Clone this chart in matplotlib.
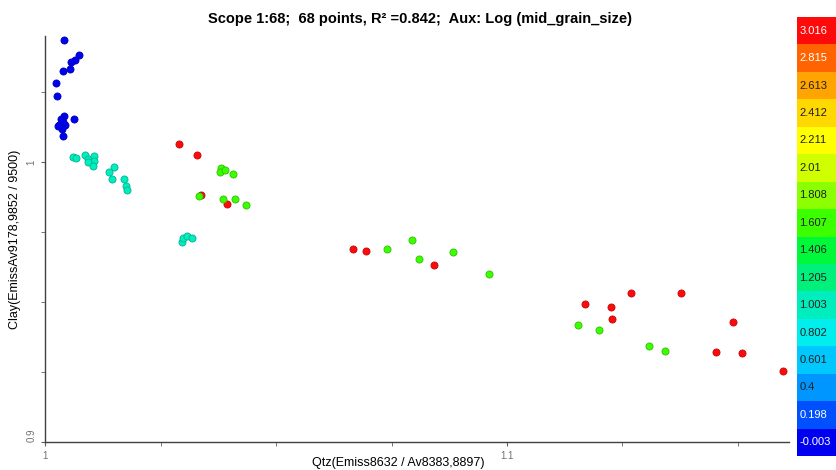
import numpy as np
import matplotlib
matplotlib.use('Agg')
import matplotlib.pyplot as plt
from matplotlib.colors import ListedColormap, BoundaryNorm, to_rgb

plt.rcParams['font.family'] = ['Liberation Sans', 'DejaVu Sans']

# colour legend (aux = log mid_grain_size), top to bottom
legend_labels = ['3.016', '2.815', '2.613', '2.412', '2.211', '2.01', '1.808', '1.607',
                 '1.406', '1.205', '1.003', '0.802', '0.601', '0.4', '0.198', '-0.003']
legend_colors = ['#FF0A0A', '#FF6400', '#FFA400', '#FFD800', '#FFFF00', '#D0FF00', '#8CFF00', '#3CFF00',
                 '#00F83A', '#00F07C', '#00EEBE', '#00EEEE', '#00C8FF', '#0096FF', '#0050FF', '#0000F0']
legend_text = ['white', 'white'] + ['#202020'] * 12 + ['white', 'white']

# point groups: x (Qtz), y (Clay), aux value
blue_x = [1.00409, 1.00734, 1.00635, 1.00548, 1.00375, 1.00533, 1.00236, 1.00251, 1.00409,
          1.00626, 1.00344, 1.00301, 1.00431, 1.00360, 1.00375, 1.00273, 1.00381]
blue_y = [1.04357, 1.03832, 1.03664, 1.03593, 1.03250, 1.03321, 1.02821, 1.02379, 1.01654,
          1.01546, 1.01546, 1.01321, 1.01321, 1.01200, 1.00939, 1.01296, 1.01439]
blue_aux = 0.0

cyan_x = [1.00604, 1.00663, 1.00851, 1.00923, 1.01046, 1.01046, 1.00929, 1.01038, 1.01480,
          1.01371, 1.01436, 1.01696, 1.01740, 1.01774, 1.02953, 1.02974, 1.03061, 1.03169]
cyan_y = [1.00179, 1.00154, 1.00250, 1.00107, 1.00225, 1.00046, 1.00000, 0.99868, 0.99843,
          0.99643, 0.99414, 0.99393, 0.99143, 0.99021, 0.97154, 0.97307, 0.97368, 0.97307]
cyan_aux = 1.0

red_x = [1.02894, 1.03291, 1.03377, 1.03934, 1.06670, 1.06952, 1.08412, 1.11696,
         1.12253, 1.12693, 1.13770, 1.12281, 1.14896, 1.14534, 1.15097, 1.15973]
red_y = [1.00654, 1.00250, 0.98821, 0.98521, 0.96904, 0.96821, 0.96332, 0.94929,
         0.94843, 0.95332, 0.95332, 0.94414, 0.94286, 0.93225, 0.93179, 0.92546]
red_aux = 3.0

green_x = [1.03811, 1.03783, 1.03897, 1.04058, 1.03334, 1.03854, 1.04114, 1.04346, 1.07407,
           1.07942, 1.08094, 1.08837, 1.09604, 1.11545, 1.11993, 1.13076, 1.13430]
green_y = [0.99807, 0.99664, 0.99714, 0.99593, 0.98786, 0.98700, 0.98700, 0.98475, 0.96904,
           0.97214, 0.96546, 0.96796, 0.96000, 0.94189, 0.94000, 0.93429, 0.93250]
green_aux = 1.6

cmap = ListedColormap(legend_colors[::-1])
vals = [float(v) for v in legend_labels[::-1]]
step = vals[1] - vals[0]
bounds = [vals[0] - step / 2] + [v + step / 2 for v in vals]
norm = BoundaryNorm(bounds, cmap.N)

fig = plt.figure(figsize=(8.37, 4.70), dpi=100)
W, H = 837.0, 470.0
ax = fig.add_axes([45.4 / W, (H - 442.3) / H, (789 - 45.4) / W, (442.3 - 36) / H])

for gx, gy, ga in [(blue_x, blue_y, blue_aux), (cyan_x, cyan_y, cyan_aux),
                   (red_x, red_y, red_aux), (green_x, green_y, green_aux)]:
    c = cmap(norm(ga))
    edge = tuple(np.array(to_rgb(c)) * 0.75)
    ax.scatter(gx, gy, s=26, color=c, edgecolors=[edge], linewidths=0.6, zorder=3)

ax.set_xlim(1.0, 1.0 + (789 - 45.4) / 4616)
ax.set_ylim(0.9, 1.0 + (162.3 - 36) / 2800)
ax.set_xticks([1.0, 1.1])
ax.set_xticklabels(['1', '1.1'])
ax.set_xticks(np.arange(1.0, 1.16, 0.025), minor=True)
ax.set_yticks([0.9, 1.0])
ax.set_yticklabels(['0.9', '1'])
ax.set_yticks(np.arange(0.9, 1.045, 0.025), minor=True)
for s in ['top', 'right']:
    ax.spines[s].set_visible(False)
for s in ['left', 'bottom']:
    ax.spines[s].set_color('#404040')
    ax.spines[s].set_linewidth(1.0)
ax.tick_params(which='both', length=3, color='#606060', labelsize=7, labelcolor='#707070')
for lab in ax.get_yticklabels():
    lab.set_rotation(90)
ax.get_yticklabels()[0].set_va('bottom')
ax.get_yticklabels()[1].set_va('center')

fig.text(15 / W, 1 - 239.5 / H, 'Clay(EmissAv9178,9852 / 9500)', rotation=90,
         ha='center', va='center', fontsize=9)
fig.text(398 / W, 1 - 463 / H, 'Qtz(Emiss8632 / Av8383,8897)', ha='center', va='center', fontsize=9)
fig.text(420 / W, 1 - 19 / H, 'Scope 1:68;  68 points, R\u00b2 =0.842;  Aux: Log (mid_grain_size)',
         ha='center', va='center', fontsize=10.5, fontweight='bold')

# discrete colour legend
cax = fig.add_axes([797 / W, (H - 456) / H, 40 / W, (456 - 17) / H])
n = len(legend_labels)
cax.barh(np.arange(n), [1] * n, height=1.0, color=legend_colors, left=0)
for i, (lab, tc) in enumerate(zip(legend_labels, legend_text)):
    cax.text(0.06, i, lab, color=tc, fontsize=8, ha='left', va='center')
cax.set_xlim(0, 1)
cax.set_ylim(n - 0.5, -0.5)
cax.axis('off')

fig.savefig('out.png', dpi=100)
